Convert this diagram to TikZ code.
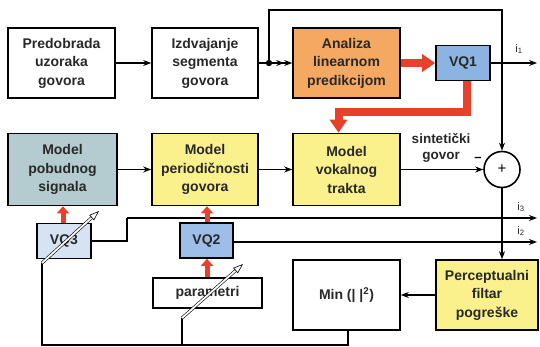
\documentclass[tikz,border=0pt]{standalone}
\usepackage{fontspec}
\setmainfont{Liberation Sans}
\usetikzlibrary{arrows.meta,calc}
\definecolor{orangeF}{RGB}{245,168,98}
\definecolor{blueA}{RGB}{140,180,226}
\definecolor{blueB}{RGB}{156,190,232}
\definecolor{blueC}{RGB}{214,227,243}
\definecolor{tealF}{RGB}{180,204,208}
\definecolor{yellowF}{RGB}{250,240,140}
\definecolor{redA}{RGB}{232,64,42}
\definecolor{txt}{RGB}{40,40,40}
\begin{document}
\begin{tikzpicture}[x=1pt,y=-1pt,
  box/.style={draw, line width=1.6pt, minimum width=107pt, minimum height=70pt, align=center,
    font=\fontsize{14}{18.5}\selectfont\bfseries, text=txt, inner sep=1pt},
  cbox/.style={box},
  vq/.style={draw, line width=1.6pt, minimum width=54pt, minimum height=35pt,
    font=\fontsize{14}{16}\selectfont\bfseries, text=txt, inner sep=1pt},
  conn/.style={line width=1.1pt},
  arr/.style={conn, -{Stealth[length=8pt,width=6pt]}},
  redthick/.style={draw=redA, line width=8pt, -{Triangle[length=13pt,width=17pt]}},
  redthin/.style={draw=redA, line width=5pt, -{Triangle[length=7pt,width=12pt]}},
  adjust/.style={line width=0.6pt, double=white, double distance=1.8pt,
    -{Triangle[open,length=10pt,width=7pt,line width=0.6pt]}},
  lbl/.style={font=\fontsize{13.5}{16.5}\selectfont\bfseries, text=txt}
]
\useasboundingbox (0,0) rectangle (540,347);

% top row
\node[box] (pre) at (61.5,63) {Predobrada\\uzoraka\\govora};
\node[box, minimum width=106pt] (izd) at (205,63) {Izdvajanje\\segmenta\\govora};
\node[cbox, fill=orangeF] (ana) at (346.5,63) {Analiza\\linearnom\\predikcijom};
\node[vq, fill=blueA] (vq1) at (463,63) {VQ1};

% middle row
\node[cbox, fill=tealF, minimum width=109pt, minimum height=72pt] (pob) at (62.5,169.5) {Model\\pobudnog\\signala};
\node[cbox, fill=yellowF, minimum width=106pt, minimum height=72pt] (per) at (205,169.5) {Model\\periodičnosti\\govora};
\node[cbox, fill=yellowF, minimum height=72pt] (vok) at (346.5,169.5) {Model\\vokalnog\\trakta};
\node[draw, circle, line width=1.6pt, minimum size=36pt, inner sep=0pt, font=\fontsize{15}{16}\selectfont] (sum) at (502,169.5) {+};

% lower row
\node[vq, fill=blueC] (vq3) at (64,241) {VQ3};
\node[vq, fill=blueB, minimum width=53pt] (vq2) at (206.5,240.5) {VQ2};
\node[box, minimum width=109pt, minimum height=30pt] (par) at (207.5,293) {parametri};
\node[box] (min) at (346.5,295) {Min (| |\textsuperscript{2})};
\node[cbox, fill=yellowF, minimum width=102pt] (pf) at (487,295) {Perceptualni\\filtar\\pogreške};

% coordinates
\coordinate (dot) at (269,63);
\coordinate (topL) at (269,10);
\coordinate (topR) at (502,10);
\coordinate (i1end) at (537,63);
\coordinate (i3a) at (127,241);
\coordinate (i3b) at (127,218);
\coordinate (i3end) at (537,218);
\coordinate (i2end) at (537,242);
\coordinate (fbM) at (348,345);
\coordinate (fbP) at (182,345);
\coordinate (fbQ) at (42,345);
\coordinate (adjPs) at (182,318);
\coordinate (adjPe) at (243,264);
\coordinate (adjQs) at (42,263);
\coordinate (adjQe) at (99,211);
\coordinate (redA1) at (467,112);
\coordinate (redA2) at (338.5,112);

% black connectors
\draw[arr] (pre) -- (izd);
\draw[conn, -{Stealth[length=8pt,width=6pt]Stealth[length=8pt,width=6pt]}] (izd) -- (ana);
\fill (dot) circle (3.2pt);
\draw[arr] (dot) -- (topL) -- (topR) -- (sum.north);
\draw[arr] (vq1) -- (i1end);
\draw[arr] (pob) -- (per);
\draw[arr] (per) -- (vok);
\draw[arr] (vok) -- (sum.west);
\draw[arr] (sum.south) -- (pf.north -| sum.south);
\draw[conn] (vq3.east |- 0,241) -- (i3a) -- (i3b);
\draw[arr] (i3b) -- (i3end);
\draw[arr] (vq2.east |- 0,242) -- (i2end);
\draw[arr] (pf) -- (min);
\draw[conn] (min.south -| fbM) -- (fbM) -- (fbQ) -- (adjQs);
\draw[conn] (fbP) -- (adjPs);

% red arrows
\draw[redthick] (ana.east) -- (vq1.west);
\draw[redthick, line join=miter] (vq1.south -| redA1) -- (redA1) -- (redA2) -- (vok.north -| redA2);
\draw[redthin] (vq3.north -| 63,0) -- (pob.south -| 63,0);
\draw[redthin] (vq2.north -| 207,0) -- (per.south -| 207,0);
\draw[redthin] (par.north -| 207,0) -- (vq2.south -| 207,0);

% adjust arrows
\draw[adjust] (adjQs) -- (adjQe);
\draw[adjust] (adjPs) -- (adjPe);

% labels
\node[lbl, align=center] (sg) at (441,148) {sintetički\\govor};
\node[font=\fontsize{13}{15}\selectfont\bfseries] (minus) at (478,159) {--};
\node[lbl, font=\fontsize{11}{13}\selectfont] (l1) at (519,49) {i\textsubscript{1}};
\node[lbl, font=\fontsize{11}{13}\selectfont] (l3) at (521,207) {i\textsubscript{3}};
\node[lbl, font=\fontsize{11}{13}\selectfont] (l2) at (521,231) {i\textsubscript{2}};
\end{tikzpicture}
\end{document}
